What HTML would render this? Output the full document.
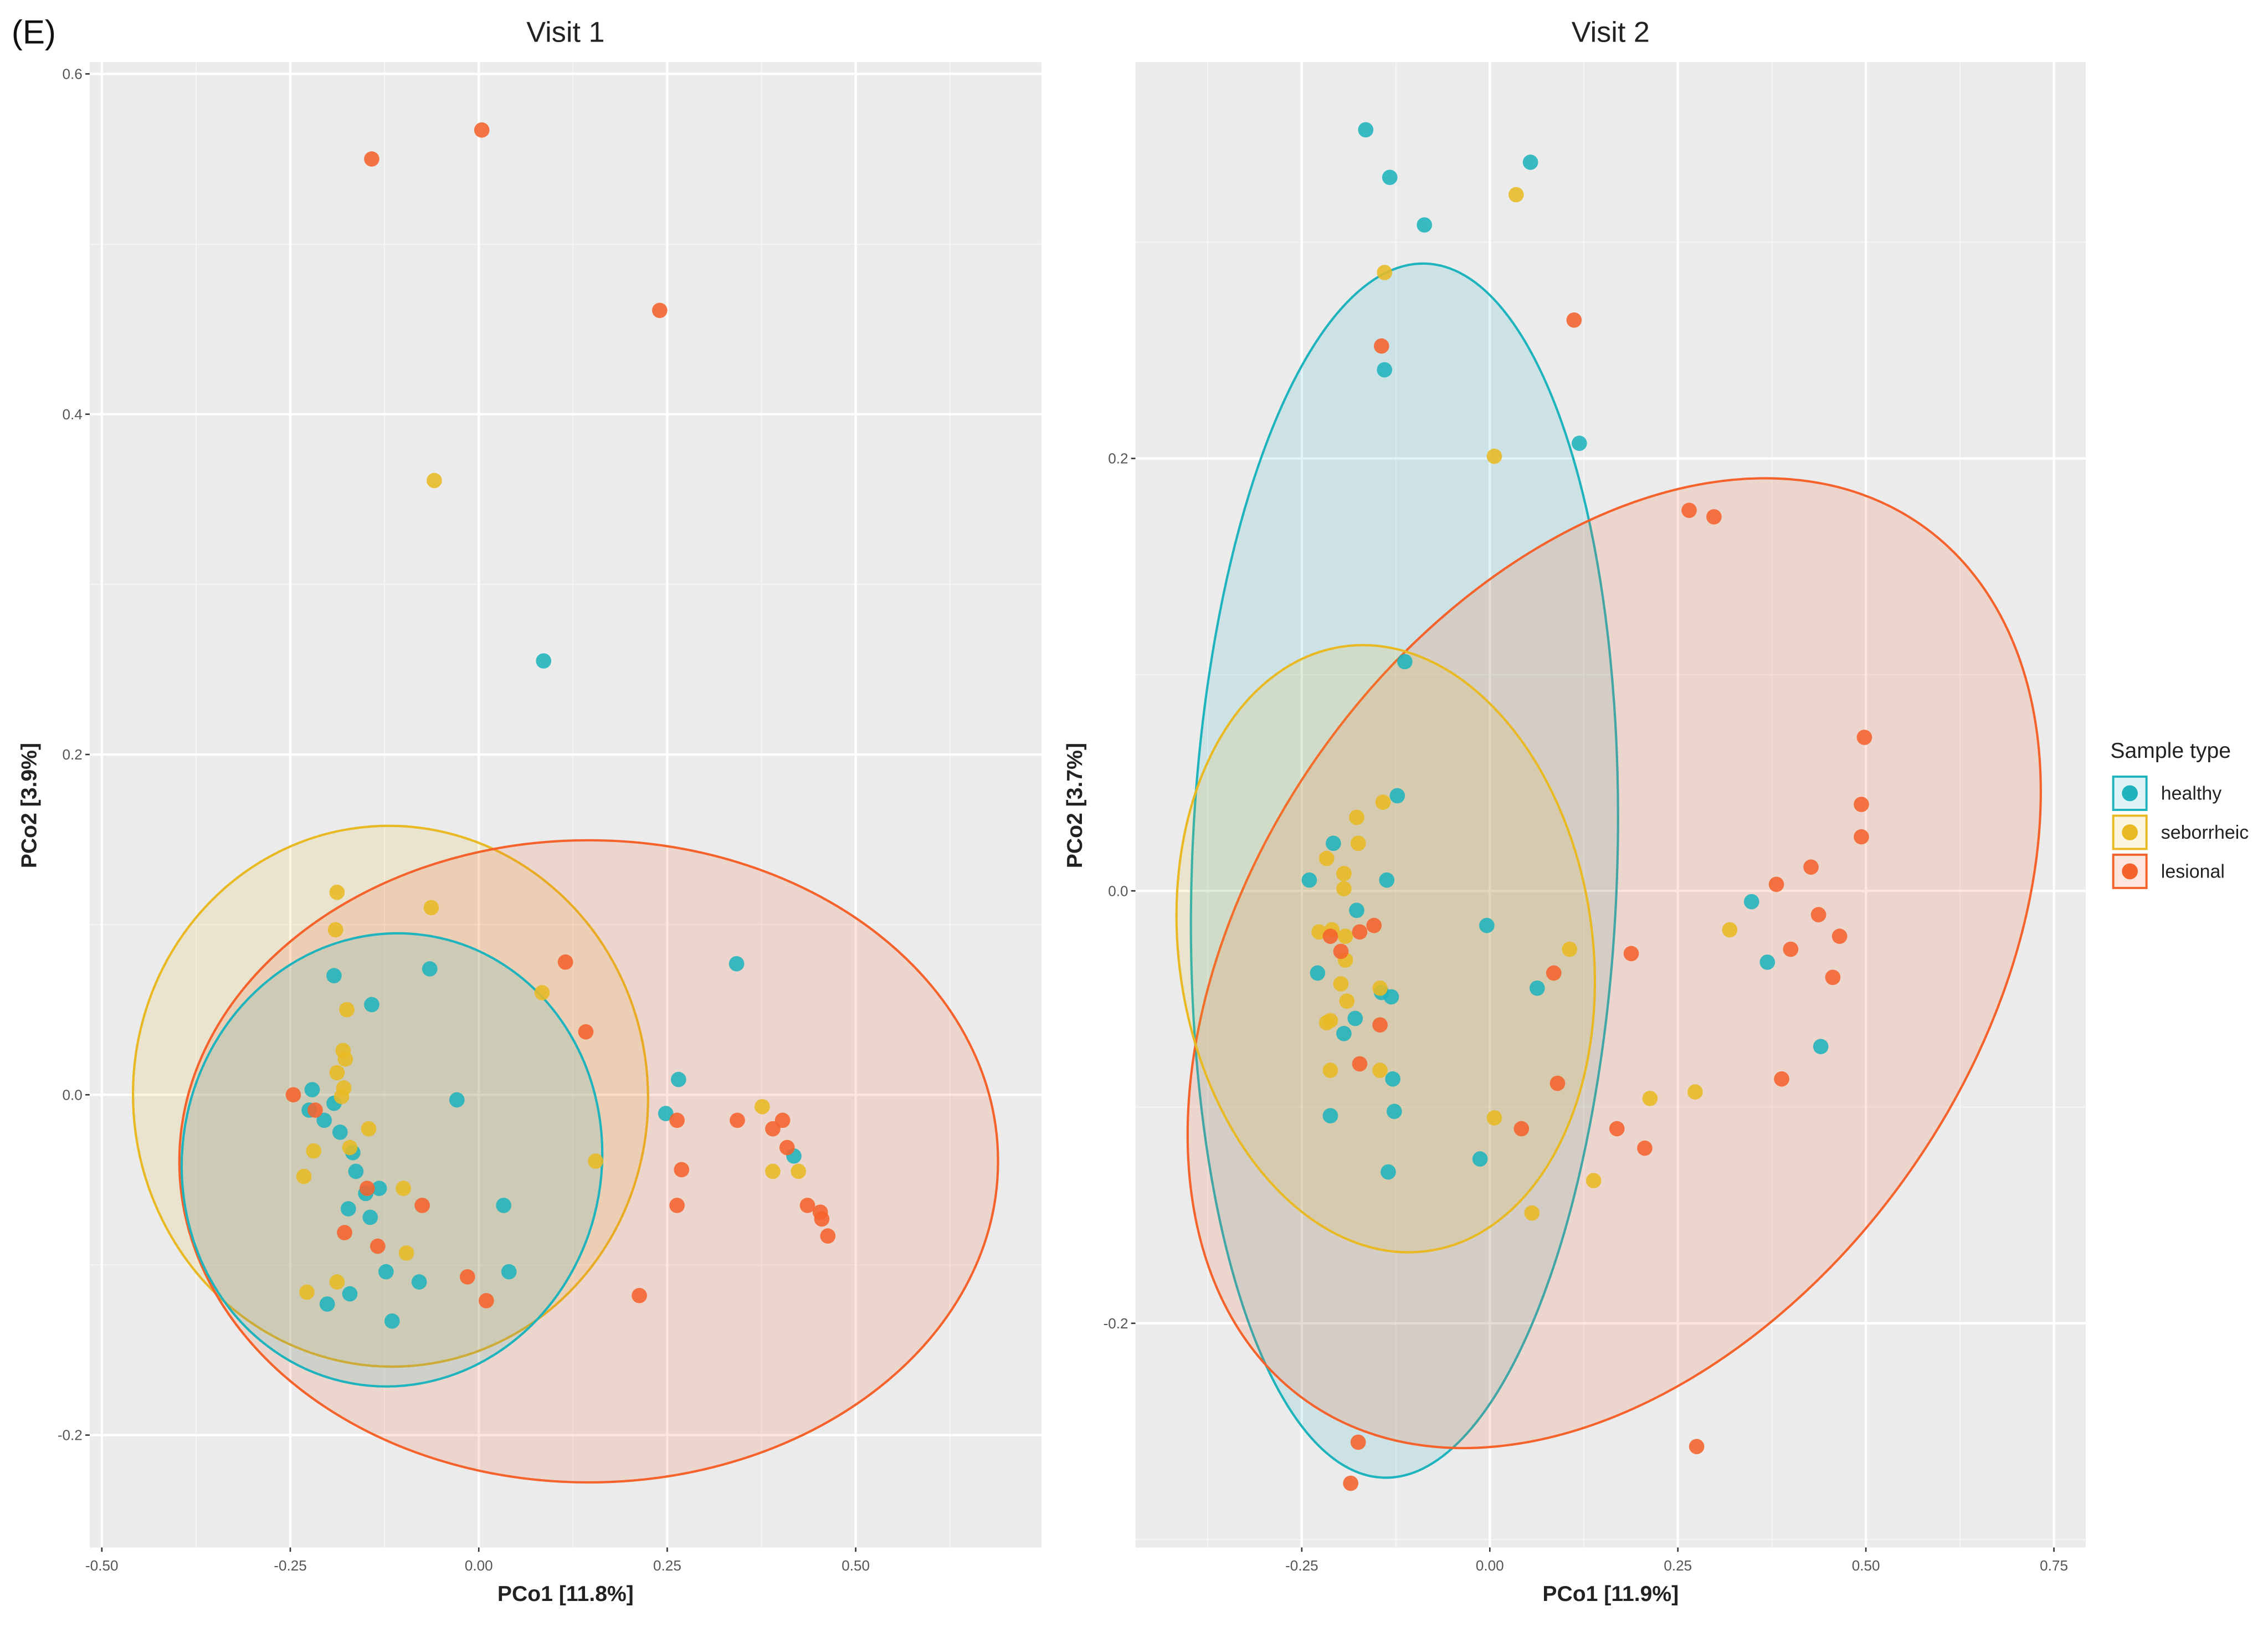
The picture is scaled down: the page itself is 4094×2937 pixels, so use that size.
<!DOCTYPE html>
<html><head><meta charset="utf-8"><style>
html,body{margin:0;padding:0;background:#fff}
svg{display:block}
text{font-family:"Liberation Sans",sans-serif}
</style></head><body>
<svg id="fig" xmlns="http://www.w3.org/2000/svg" width="4094" height="2937" viewBox="0 0 1568 1125" preserveAspectRatio="none">
<rect width="1568" height="1125" fill="#fff"/>
<text x="8" y="30" font-size="23" fill="#111">(E)</text>
</svg>
<script>
// ---- Visit 1 data ----
const v1HealthyX=[0.086,0.342,0.265,0.248,0.418,-0.065,-0.142,-0.192,-0.029,-0.221,-0.225,-0.205,-0.192,-0.184,-0.167,-0.163,-0.173,-0.150,-0.144,-0.132,0.033,-0.123,-0.079,0.040,-0.171,-0.201,-0.115];
const v1HealthyY=[0.255,0.077,0.009,-0.011,-0.036,0.074,0.053,0.070,-0.003,0.003,-0.009,-0.015,-0.005,-0.022,-0.034,-0.045,-0.067,-0.058,-0.072,-0.055,-0.065,-0.104,-0.110,-0.104,-0.117,-0.123,-0.133];
const v1SebX=[-0.059,-0.188,-0.190,-0.063,-0.175,-0.180,-0.177,-0.188,-0.179,-0.182,-0.146,-0.219,-0.171,-0.232,0.084,0.155,0.376,0.390,0.424,-0.100,-0.096,-0.228,-0.188];
const v1SebY=[0.361,0.119,0.097,0.110,0.050,0.026,0.021,0.013,0.004,-0.001,-0.020,-0.033,-0.031,-0.048,0.060,-0.039,-0.007,-0.045,-0.045,-0.055,-0.093,-0.116,-0.110];
const v1LesX=[-0.142,0.004,0.240,0.115,0.142,-0.246,-0.217,0.263,0.269,0.263,0.343,0.390,0.403,0.409,0.436,0.453,0.455,0.463,0.213,-0.148,-0.075,-0.178,-0.134,-0.015,0.010];
const v1LesY=[0.550,0.567,0.461,0.078,0.037,0.000,-0.009,-0.015,-0.044,-0.065,-0.015,-0.020,-0.015,-0.031,-0.065,-0.069,-0.073,-0.083,-0.118,-0.055,-0.065,-0.081,-0.089,-0.107,-0.121];
// ---- Visit 2 data ----
const v2HealthyX=[-0.165,-0.133,-0.087,0.054,-0.140,0.119,-0.113,-0.123,-0.208,-0.240,-0.137,-0.177,-0.004,-0.229,-0.144,-0.131,-0.179,-0.194,-0.129,-0.212,-0.127,-0.135,0.063,-0.013,0.348,0.369,0.440];
const v2HealthyY=[0.352,0.330,0.308,0.337,0.241,0.207,0.106,0.044,0.022,0.005,0.005,-0.009,-0.016,-0.038,-0.047,-0.049,-0.059,-0.066,-0.087,-0.104,-0.102,-0.130,-0.045,-0.124,-0.005,-0.033,-0.072];
const v2SebX=[0.035,-0.140,0.006,-0.142,-0.177,-0.175,-0.217,-0.194,-0.194,-0.227,-0.210,-0.192,-0.192,-0.198,-0.190,-0.212,-0.217,-0.146,-0.212,-0.146,0.106,0.319,0.006,0.056,0.138,0.213,0.273];
const v2SebY=[0.322,0.286,0.201,0.041,0.034,0.022,0.015,0.008,0.001,-0.019,-0.018,-0.021,-0.032,-0.043,-0.051,-0.060,-0.061,-0.045,-0.083,-0.083,-0.027,-0.018,-0.105,-0.149,-0.134,-0.096,-0.093];
const v2LesX=[0.112,-0.144,0.265,0.298,0.498,0.494,0.494,0.427,0.381,0.437,0.465,0.400,0.456,0.188,0.085,-0.173,-0.154,-0.212,-0.198,-0.146,-0.173,0.090,0.042,0.169,0.206,0.388,-0.175,-0.185,0.275];
const v2LesY=[0.264,0.252,0.176,0.173,0.071,0.040,0.025,0.011,0.003,-0.011,-0.021,-0.027,-0.040,-0.029,-0.038,-0.019,-0.016,-0.021,-0.028,-0.062,-0.080,-0.089,-0.110,-0.110,-0.119,-0.087,-0.255,-0.274,-0.257];
// ---- tick labels ----
const v1XTicks=[-0.5,-0.25,0,0.25,0.5];
const v1XTickLabels=["-0.50","-0.25","0.00","0.25","0.50"];
const v1YTicks=[0.6,0.4,0.2,0,-0.2];
const v1YTickLabels=["0.6","0.4","0.2","0.0","-0.2"];
const v2XTicks=[-0.25,0,0.25,0.5,0.75];
const v2XTickLabels=["-0.25","0.00","0.25","0.50","0.75"];
const v2YTicks=[0.2,0,-0.2];
const v2YTickLabels=["0.2","0.0","-0.2"];
const groupNames=["healthy","seborrheic","lesional"];

const NS="http://www.w3.org/2000/svg";
const svg=document.getElementById('fig');
const COL={healthy:"#1fb3bd",seborrheic:"#e8b923",lesional:"#f5622c"};
const FILL={healthy:"rgba(31,179,189,0.14)",seborrheic:"rgba(232,185,35,0.14)",lesional:"rgba(245,98,44,0.16)"};
function mk(tag,attrs,parent){const e=document.createElementNS(NS,tag);for(const k in attrs)e.setAttribute(k,attrs[k]);(parent||svg).appendChild(e);return e;}

function panel(cfg){
  const g=mk('g',{});
  
  
  const sx=v=>cfg.x0+v*cfg.kx, sy=v=>cfg.y0-v*cfg.ky;
  const bg=mk('rect',{x:cfg.L,y:cfg.T,width:cfg.R-cfg.L,height:cfg.B-cfg.T,fill:"#ebebeb"},g);
  
  
  for(const v of cfg.minX){const x=sx(v);if(x>cfg.L&&x<cfg.R)mk('line',{x1:x,x2:x,y1:cfg.T,y2:cfg.B,stroke:"#f5f5f5","stroke-width":0.8},g);}
  for(const v of cfg.minY){const y=sy(v);if(y>cfg.T&&y<cfg.B)mk('line',{y1:y,y2:y,x1:cfg.L,x2:cfg.R,stroke:"#f5f5f5","stroke-width":0.8},g);}
  cfg.xt.forEach((v,i)=>{const x=sx(v);mk('line',{x1:x,x2:x,y1:cfg.T,y2:cfg.B,stroke:"#fff","stroke-width":1.6},g);
    mk('line',{x1:x,x2:x,y1:cfg.B,y2:cfg.B+3,stroke:"#333","stroke-width":1},g);
    const t=mk('text',{x:x,y:cfg.B+16,"font-size":10,fill:"#555","text-anchor":"middle"},g);t.textContent=cfg.xl[i];
    
    });
  cfg.yt.forEach((v,i)=>{const y=sy(v);mk('line',{y1:y,y2:y,x1:cfg.L,x2:cfg.R,stroke:"#fff","stroke-width":1.6},g);
    mk('line',{y1:y,y2:y,x1:cfg.L-3,x2:cfg.L,stroke:"#333","stroke-width":1},g);
    const t=mk('text',{x:cfg.L-5,y:y+3.5,"font-size":10,fill:"#555","text-anchor":"end"},g);t.textContent=cfg.yl[i];
    
    });
  cfg.ell.forEach(e=>{const el=mk('ellipse',{cx:e[1],cy:e[2],rx:e[3],ry:e[4],transform:`rotate(${e[5]} ${e[1]} ${e[2]})`,fill:FILL[e[0]],stroke:COL[e[0]],"stroke-width":1.6},g);
    
    });
  cfg.series.forEach(s=>{s.xs.forEach((xv,i)=>{const c=mk('circle',{cx:sx(xv),cy:sy(s.ys[i]),r:5.3,fill:COL[s.g],"fill-opacity":0.88},g);
    
    });});
  const tt=mk('text',{x:(cfg.L+cfg.R)/2,y:29,"font-size":20,fill:"#222","text-anchor":"middle"},g);tt.textContent=cfg.title;
  
  
  const xa=mk('text',{x:(cfg.L+cfg.R)/2,y:1107,"font-size":15,"font-weight":"bold",fill:"#222","text-anchor":"middle"},g);xa.textContent=cfg.xtitle;
  
  
  const ya=mk('text',{x:0,y:0,"font-size":15,"font-weight":"bold",fill:"#222","text-anchor":"middle",transform:`translate(${cfg.ytx},557) rotate(-90)`},g);ya.textContent=cfg.ytitle;
  
  
}

panel({name:'visit-1-panel',title:'Visit 1',xtitle:'PCo1 [11.8%]',ytitle:'PCo2 [3.9%]',ytx:25,
  L:62,R:720,T:43,B:1070,x0:331,kx:521.2,y0:757,ky:1176.5,
  xt:v1XTicks,xl:v1XTickLabels,yt:v1YTicks,yl:v1YTickLabels,
  minX:[-0.375,-0.125,0.125,0.375,0.625],minY:[0.5,0.3,0.1,-0.1],
  ell:[['seborrheic',270,758,178,187,-4],['lesional',407,803,283,222,0],['healthy',271,802,145,157,10]],
  series:[{g:'healthy',xs:v1HealthyX,ys:v1HealthyY},{g:'seborrheic',xs:v1SebX,ys:v1SebY},{g:'lesional',xs:v1LesX,ys:v1LesY}]});
panel({name:'visit-2-panel',title:'Visit 2',xtitle:'PCo1 [11.9%]',ytitle:'PCo2 [3.7%]',ytx:748,
  L:785,R:1442,T:43,B:1070,x0:1030,kx:520,y0:616,ky:1495,
  xt:v2XTicks,xl:v2XTickLabels,yt:v2YTicks,yl:v2YTickLabels,
  minX:[-0.375,-0.125,0.125,0.375,0.625],minY:[0.3,0.1,-0.1,-0.3],
  ell:[['healthy',971,602,147,420,2],['lesional',1116,666,370,250,-55],['seborrheic',958,656,143,211,-8]],
  series:[{g:'healthy',xs:v2HealthyX,ys:v2HealthyY},{g:'seborrheic',xs:v2SebX,ys:v2SebY},{g:'lesional',xs:v2LesX,ys:v2LesY}]});

const lg=mk('g',{});


const lt=mk('text',{x:1459,y:524,"font-size":15,fill:"#222"},lg);lt.textContent='Sample type';


groupNames.forEach((n,i)=>{const y=537+i*27;
  const e=mk('g',{},lg);
  
  
  mk('rect',{x:1461,y:y,width:23,height:23,fill:FILL[n],stroke:COL[n],"stroke-width":1.5},e);
  mk('circle',{cx:1472.5,cy:y+11.5,r:5.5,fill:COL[n]},e);
  const t=mk('text',{x:1494,y:y+16,"font-size":13,fill:"#222"},e);t.textContent=n;});
</script>
</body></html>
